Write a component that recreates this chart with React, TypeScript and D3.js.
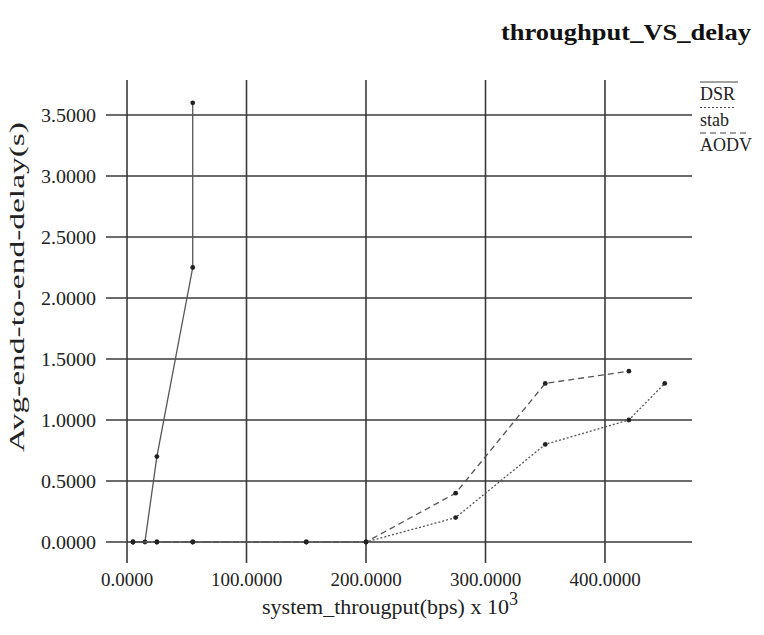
import React from "react";
import * as d3 from "d3";

// values (x in kbps, y in seconds)
const xTicks = [0, 100, 200, 300, 400];
const yTicks = [0, 0.5, 1, 1.5, 2, 2.5, 3, 3.5];

const dsrX = [5, 15, 25, 55, 55];
const dsrY = [0, 0, 0.7, 2.25, 3.6];

const stabX = [5, 25, 55, 150, 200, 275, 350, 420, 450];
const stabY = [0, 0, 0, 0, 0, 0.2, 0.8, 1.0, 1.3];

const aodvX = [5, 25, 55, 150, 200, 275, 350, 420];
const aodvY = [0, 0, 0, 0, 0, 0.4, 1.3, 1.4];

const seriesNames = ["DSR", "stab", "AODV"];
const dashes = ["none", "2,2", "6,4"];

const W = 764;
const H = 635;
const font = "'Liberation Serif', 'Times New Roman', serif";

export default function App() {
  const x = d3.scaleLinear().domain([0, 400]).range([127, 605]);
  const y = d3.scaleLinear().domain([0, 3.5]).range([542, 115]);
  const gridLeft = 106;
  const gridRight = 692;
  const gridTop = 80;
  const gridBottom = 563;

  const series = [
    { name: "DSR", xs: dsrX, ys: dsrY, dash: dashes[0] },
    { name: "stab", xs: stabX, ys: stabY, dash: dashes[1] },
    { name: "AODV", xs: aodvX, ys: aodvY, dash: dashes[2] },
  ];

  const line = d3
    .line<[number, number]>()
    .x((d) => x(d[0]))
    .y((d) => y(d[1]));

  return (
    <svg
      width={W}
      height={H}
      style={{ position: "absolute", left: 0, top: 0, background: "#fff" }}
      fontFamily={font}
    >
      <text
        x={751}
        y={40}
        textAnchor="end"
        fontSize={23}
        fontWeight="bold"
        fill="#111"
        textLength={250}
        lengthAdjust="spacingAndGlyphs"
      >
        throughput_VS_delay
      </text>

      {/* grid */}
      {xTicks.map((t) => (
        <line key={"vx" + t} x1={x(t)} x2={x(t)} y1={gridTop} y2={gridBottom} stroke="#3a3a3a" strokeWidth={1.6} />
      ))}
      {yTicks.map((t) => (
        <line key={"hy" + t} x1={gridLeft} x2={gridRight} y1={y(t)} y2={y(t)} stroke="#3a3a3a" strokeWidth={1.6} />
      ))}

      {/* tick labels */}
      {yTicks.map((t) => (
        <text
          key={"ly" + t}
          x={96}
          y={y(t)}
          dy="0.35em"
          textAnchor="end"
          fontSize={19}
          fill="#222"
          textLength={55}
          lengthAdjust="spacingAndGlyphs"
        >
          {t.toFixed(4)}
        </text>
      ))}
      {xTicks.map((t) => (
        <text key={"lx" + t} x={x(t)} y={586} textAnchor="middle" fontSize={19} fill="#222">
          {t.toFixed(4)}
        </text>
      ))}

      {/* axis titles */}
      <text
        transform={`translate(24,${287}) rotate(-90)`}
        x={-165}
        fontSize={22}
        fill="#222"
        textLength={330}
        lengthAdjust="spacingAndGlyphs"
      >
        Avg-end-to-end-delay(s)
      </text>
      <text x={390} y={614} textAnchor="middle" fontSize={22} fill="#222">
        system_througput(bps) x 10
        <tspan dy={-9} fontSize={18}>3</tspan>
      </text>

      {/* series */}
      {series.map((s) => {
        const pts: [number, number][] = s.xs.map((v, i) => [v, s.ys[i]]);
        return (
          <g key={s.name}>
            <path
              d={line(pts) || ""}
              fill="none"
              stroke="#555"
              strokeWidth={1.3}
              strokeDasharray={s.dash}
            />
            {pts.map((p, i) => (
              <circle key={i} cx={x(p[0])} cy={y(p[1])} r={2.4} fill="#222" />
            ))}
          </g>
        );
      })}

      {/* legend */}
      {seriesNames.map((n, i) => (
        <g key={"lg" + n}>
          <line
            x1={700}
            x2={n === "stab" ? 734 : n === "DSR" ? 738 : 750}
            y1={82 + i * 25.5}
            y2={82 + i * 25.5}
            stroke="#444"
            strokeWidth={1.2}
            strokeDasharray={dashes[i]}
          />
          <text x={700} y={100 + i * 25.5} fontSize={18} fill="#222">
            {n}
          </text>
        </g>
      ))}
    </svg>
  );
}
